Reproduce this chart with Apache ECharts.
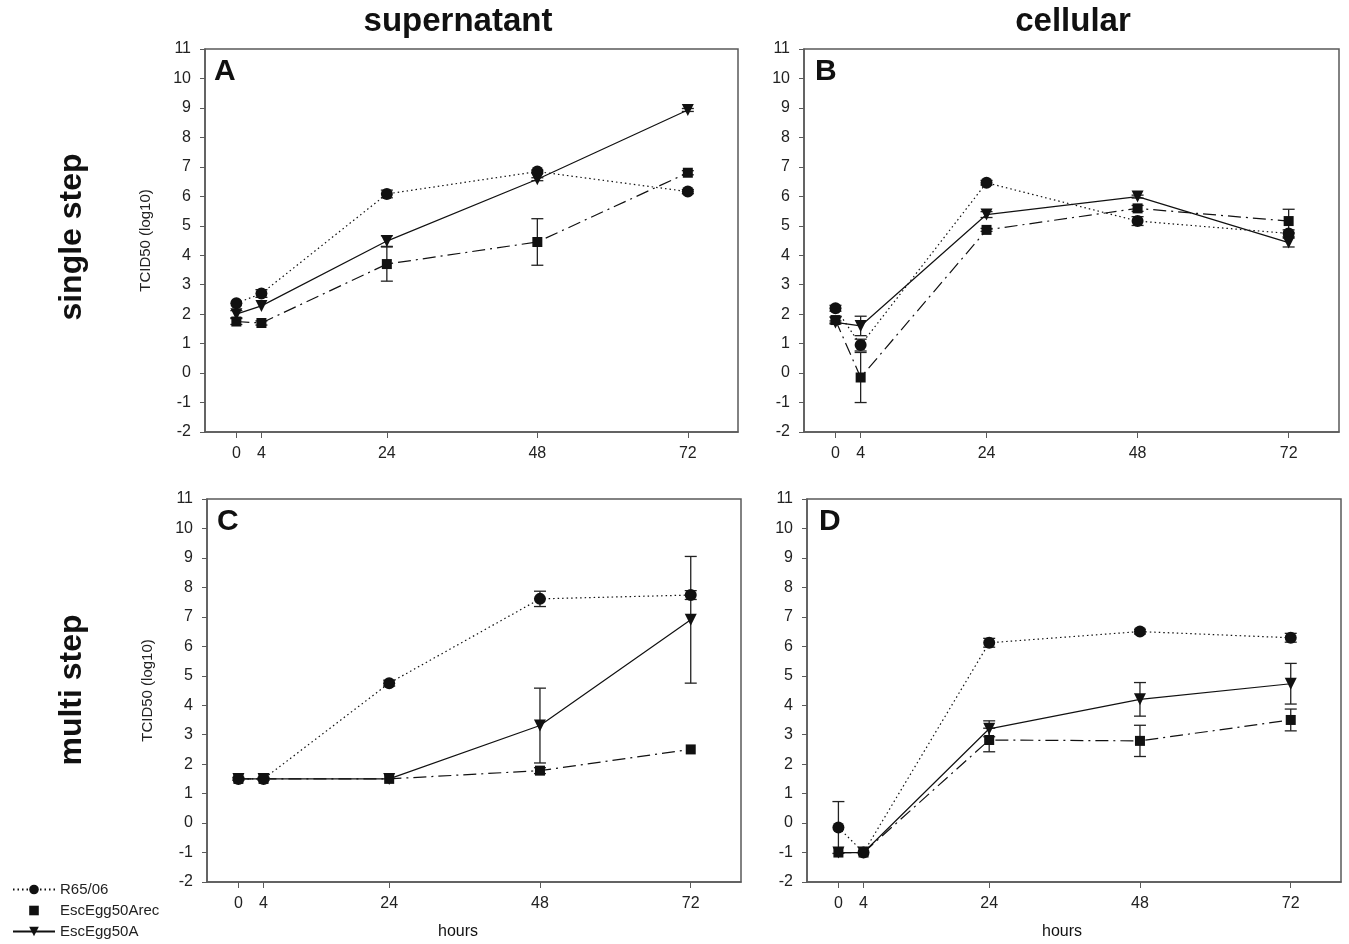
<!DOCTYPE html>
<html lang="en">

<head>
  <meta charset="UTF-8">
  <title>TCID50 growth curves</title>
  <script src="https://cdn.jsdelivr.net/npm/echarts@6/dist/echarts.min.js"></script>
  <style>
    html, body { margin: 0; padding: 0; background: #fff; }
    #chart { width: 1349px; height: 944px; }
  </style>
</head>

<body>
  <div id="chart"></div>
  <script>
    // time points (hours)
    var hours = [0, 4, 24, 48, 72];
    var strains = ['R65/06', 'EscEgg50Arec', 'EscEgg50A'];
    var yTicks = [-2, 11];

    // A - supernatant, single step
    var aR65 = [2.37, 2.7, 6.08, 6.84, 6.16];
    var aR65Err = [0, 0.13, 0.13, 0.05, 0.07];
    var aArec = [1.75, 1.7, 3.7, 4.45, 6.8];
    var aArecErr = [0.1, 0.07, 0.58, 0.79, 0.07];
    var aA = [2.0, 2.28, 4.48, 6.58, 8.93];
    var aAErr = [0.12, 0, 0.18, 0.05, 0.05];

    // B - cellular, single step
    var bR65 = [2.2, 0.95, 6.46, 5.16, 4.74];
    var bR65Err = [0.1, 0.2, 0.08, 0.15, 0.12];
    var bArec = [1.8, -0.15, 4.86, 5.59, 5.16];
    var bArecErr = [0.1, 0.85, 0.05, 0.1, 0.4];
    var bA = [1.72, 1.6, 5.38, 5.99, 4.43];
    var bAErr = [0.05, 0.33, 0.1, 0.05, 0.15];

    // C - supernatant, multi step
    var cR65 = [1.5, 1.5, 4.75, 7.61, 7.74];
    var cR65Err = [0.05, 0.05, 0.1, 0.26, 0.15];
    var cArec = [1.5, 1.5, 1.5, 1.78, 2.5];
    var cArecErr = [0, 0, 0, 0.1, 0];
    var cA = [1.5, 1.5, 1.5, 3.31, 6.9];
    var cAErr = [0, 0, 0, 1.27, 2.15];

    // D - cellular, multi step
    var dR65 = [-0.15, -1, 6.12, 6.5, 6.29];
    var dR65Err = [0.88, 0, 0.15, 0.08, 0.15];
    var dArec = [-1, -1, 2.82, 2.79, 3.5];
    var dArecErr = [0, 0, 0.4, 0.53, 0.37];
    var dA = [-1, -1, 3.2, 4.2, 4.73];
    var dAErr = [0, 0, 0.27, 0.57, 0.69];

    var panels = [
      { letter: 'A', vals: [aR65, aArec, aA], errs: [aR65Err, aArecErr, aAErr] },
      { letter: 'B', vals: [bR65, bArec, bA], errs: [bR65Err, bArecErr, bAErr] },
      { letter: 'C', vals: [cR65, cArec, cA], errs: [cR65Err, cArecErr, cAErr] },
      { letter: 'D', vals: [dR65, dArec, dA], errs: [dR65Err, dArecErr, dAErr] }
    ];

    var font = 'Liberation Sans, Arial, sans-serif';
    var axisGrey = '#5a5a5a';
    var ink = '#111';

    var gridPos = [
      { left: 205, top: 49, width: 533, height: 383 },
      { left: 804, top: 49, width: 535, height: 383 },
      { left: 207, top: 499, width: 534, height: 383 },
      { left: 807, top: 499, width: 534, height: 383 }
    ];

    var looks = [
      { symbol: 'circle', size: 12, rotate: 0, dash: [1.5, 3] },
      { symbol: 'rect', size: 10, rotate: 0, dash: [13, 5, 2, 5] },
      { symbol: 'triangle', size: 12, rotate: 180, dash: 'solid' }
    ];

    var grids = [], xAxes = [], yAxes = [], series = [];

    panels.forEach(function (p, k) {
      grids.push({
        left: gridPos[k].left, top: gridPos[k].top,
        width: gridPos[k].width, height: gridPos[k].height,
        show: true, borderColor: axisGrey, borderWidth: 1.5
      });
      xAxes.push({
        gridIndex: k, type: 'value', min: -5, max: 80,
        splitLine: { show: false },
        axisLine: { onZero: false, lineStyle: { color: axisGrey, width: 1.5 } },
        axisTick: { customValues: hours, length: 6, lineStyle: { color: axisGrey } },
        axisLabel: { customValues: hours, margin: 14, fontSize: 16, color: '#222', fontFamily: font }
      });
      yAxes.push({
        gridIndex: k, type: 'value', min: yTicks[0], max: yTicks[1], interval: 1,
        name: (k % 2 === 0) ? 'TCID50 (log10)' : '',
        nameLocation: 'middle', nameGap: 52,
        nameTextStyle: { fontSize: 15, color: '#222', fontFamily: font },
        splitLine: { show: false },
        axisLine: { show: true, onZero: false, lineStyle: { color: axisGrey, width: 1.5 } },
        axisTick: { show: true, length: 5, lineStyle: { color: axisGrey } },
        axisLabel: { margin: 14, fontSize: 16, color: '#222', fontFamily: font }
      });

      strains.forEach(function (name, s) {
        var errData = [];
        hours.forEach(function (h, i) {
          if (p.errs[s][i] > 0) errData.push([h, p.vals[s][i] - p.errs[s][i], p.vals[s][i] + p.errs[s][i]]);
        });
        series.push({
          name: 'err', type: 'custom', xAxisIndex: k, yAxisIndex: k, z: 3,
          data: errData, silent: true,
          renderItem: function (params, api) {
            var x = api.value(0);
            var lo = api.coord([x, api.value(1)]);
            var hi = api.coord([x, api.value(2)]);
            var st = { stroke: '#222', lineWidth: 1.3 };
            return {
              type: 'group', children: [
                { type: 'line', shape: { x1: lo[0], y1: lo[1], x2: hi[0], y2: hi[1] }, style: st },
                { type: 'line', shape: { x1: lo[0] - 6, y1: lo[1], x2: lo[0] + 6, y2: lo[1] }, style: st },
                { type: 'line', shape: { x1: hi[0] - 6, y1: hi[1], x2: hi[0] + 6, y2: hi[1] }, style: st }
              ]
            };
          }
        });
        series.push({
          name: name, type: 'line', xAxisIndex: k, yAxisIndex: k, z: 4,
          data: hours.map(function (h, i) { return [h, p.vals[s][i]]; }),
          symbol: looks[s].symbol, symbolSize: looks[s].size, symbolRotate: looks[s].rotate,
          showAllSymbol: true,
          itemStyle: { color: ink },
          lineStyle: { color: ink, width: 1.2, type: looks[s].dash },
          emphasis: { disabled: true }
        });
      });
    });

    var txt = function (x, y, text, size, bold, rot, align) {
      return {
        type: 'text', x: x, y: y, rotation: rot || 0,
        style: {
          text: text, fontSize: size, fontWeight: bold ? 'bold' : 'normal',
          fontFamily: font, fill: '#111', align: align || 'center', verticalAlign: 'middle'
        }
      };
    };

    var option = {
      animation: false,
      backgroundColor: '#fff',
      grid: grids,
      xAxis: xAxes,
      yAxis: yAxes,
      legend: {
        orient: 'vertical', left: 12, top: 882, padding: 0,
        itemWidth: 42, itemHeight: 12, itemGap: 6,
        textStyle: { fontSize: 15, color: '#222', fontFamily: font },
        data: [
          { name: 'R65/06' },
          { name: 'EscEgg50Arec', lineStyle: { width: 0 } },
          { name: 'EscEgg50A' }
        ]
      },
      graphic: [
        txt(458, 22, 'supernatant', 33, true),
        txt(1073, 22, 'cellular', 33, true),
        txt(72, 237, 'single step', 32, true, Math.PI / 2),
        txt(72, 690, 'multi step', 32, true, Math.PI / 2),
        txt(214, 72, 'A', 30, true, 0, 'left'),
        txt(815, 72, 'B', 30, true, 0, 'left'),
        txt(217, 522, 'C', 30, true, 0, 'left'),
        txt(819, 522, 'D', 30, true, 0, 'left'),
        txt(458, 932, 'hours', 16, false),
        txt(1062, 932, 'hours', 16, false)
      ],
      series: series
    };

    var myChart = echarts.init(document.getElementById('chart'));
    option && myChart.setOption(option);
  </script>
</body>

</html>
